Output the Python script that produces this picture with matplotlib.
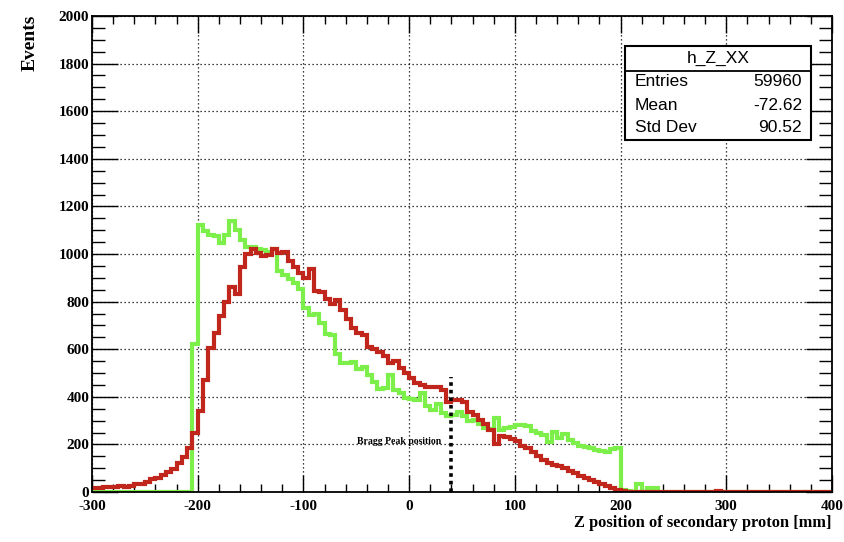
import numpy as np
import matplotlib
matplotlib.use("Agg")
import matplotlib.pyplot as plt
from matplotlib.patches import Rectangle
from matplotlib.lines import Line2D

# ---------------- data (5 mm bins from -300 to 400) ----------------
bin_lo, bin_hi, bin_w = -300, 400, 5

red_counts = [
    15, 18, 22, 20, 22, 25, 22, 25, 35, 32,          # -300 .. -255
    40, 55, 58, 72, 84, 95, 122, 145, 185, 250,      # -250 .. -205
    340, 470, 605, 668, 740, 800, 860, 830, 945, 1000,  # -200 .. -155
    1020, 1005, 990, 995, 1020, 1005, 1010, 972, 945, 920,  # -150 .. -105
    900, 935, 845, 840, 810, 790, 805, 765, 725, 690,  # -100 .. -55
    670, 660, 610, 600, 590, 570, 540, 550, 520, 500,  # -50 .. -5
    480, 460, 450, 442, 440, 440, 428, 380, 385, 385,  # 0 .. 45
    380, 338, 322, 302, 285, 260, 200, 235, 232, 222,  # 50 .. 95
    216, 195, 185, 168, 150, 135, 122, 112, 108, 100,  # 100 .. 145
    88, 78, 68, 60, 50, 42, 33, 25, 18, 10,          # 150 .. 195
    3, 2, 0, 0, 0, 0, 0, 0, 0, 0,                    # 200 .. 245
    0, 0, 0, 0, 0, 0, 0, 0, 4, 0,                    # 250 .. 295
    0, 0, 0, 0, 0, 0, 0, 0, 0, 0,                    # 300 .. 345
    0, 0, 0, 0, 0, 0, 0, 0, 0, 0,                    # 350 .. 395
]

green_counts = [
    0, 0, 0, 0, 0, 0, 0, 0, 0, 0,                    # -300 .. -255
    0, 0, 0, 0, 0, 0, 0, 0, 0, 620,                  # -250 .. -205
    1120, 1095, 1080, 1075, 1045, 1080, 1140, 1100, 1060, 1030,  # -200 .. -155
    1030, 1022, 1015, 1010, 1020, 930, 912, 895, 880, 855,  # -150 .. -105
    775, 745, 750, 710, 665, 660, 580, 540, 540, 545,  # -100 .. -55
    515, 525, 490, 462, 432, 438, 492, 430, 415, 395,  # -50 .. -5
    390, 388, 415, 362, 345, 370, 330, 318, 322, 338,  # 0 .. 45
    318, 300, 302, 285, 268, 265, 310, 260, 268, 272,  # 50 .. 95
    280, 282, 278, 255, 250, 240, 212, 252, 228, 245,  # 100 .. 145
    218, 205, 195, 190, 185, 178, 172, 170, 180, 183,  # 150 .. 195
    10, 5, 0, 35, 0, 18, 18, 0, 0, 0,                # 200 .. 245
    0, 0, 0, 0, 0, 0, 0, 0, 0, 0,                    # 250 .. 295
    0, 0, 0, 0, 0, 0, 0, 0, 0, 0,                    # 300 .. 345
    0, 0, 0, 0, 0, 0, 0, 0, 0, 0,                    # 350 .. 395
]

stats_title = "h_Z_XX"
stats_labels = ["Entries", "Mean", "Std Dev"]
stats_values = ["59960", "-72.62", "90.52"]

bragg_peak_z = 40
bragg_peak_top = 485
bragg_label = "Bragg Peak position"

x_ticks = [-300, -200, -100, 0, 100, 200, 300, 400]
y_ticks = [0, 200, 400, 600, 800, 1000, 1200, 1400, 1600, 1800, 2000]

# ---------------- figure ----------------
W, H = 844, 542
fig = plt.figure(figsize=(W / 100, H / 100), dpi=100)
fig.patch.set_facecolor("white")

def fx(px):
    return px / W

def fy(py):
    return 1 - py / H

ax = fig.add_axes([fx(92), fy(492), (832 - 92) / W, (492 - 16) / H])

edges = np.arange(bin_lo, bin_hi + bin_w, bin_w)
ax.stairs(green_counts, edges, baseline=None, color="#7def4a", lw=3.0, zorder=3)
ax.stairs(red_counts, edges, baseline=None, color="#c0261c", lw=3.0, zorder=4)

ax.set_xlim(bin_lo, bin_hi)
ax.set_ylim(0, 2000)

serif = ["Liberation Serif", "DejaVu Serif"]
sans = ["Liberation Sans", "DejaVu Sans"]

ax.set_xticks(x_ticks)
ax.set_yticks(y_ticks)
ax.set_xticks(np.arange(-300, 401, 20), minor=True)
ax.set_yticks(np.arange(0, 2001, 50), minor=True)
ax.set_xticklabels([str(v) for v in x_ticks], fontfamily=serif, fontweight="bold", fontsize=11)
ax.set_yticklabels([str(v) for v in y_ticks], fontfamily=serif, fontweight="bold", fontsize=11)

ax.tick_params(axis="both", which="both", direction="in", top=True, right=True,
               color="black", width=1.0)
ax.tick_params(axis="y", which="major", length=19, pad=2)
ax.tick_params(axis="y", which="minor", length=9.5)
ax.tick_params(axis="x", which="major", length=12, pad=6)
ax.tick_params(axis="x", which="minor", length=6)

for s in ax.spines.values():
    s.set_linewidth(1.3)
    s.set_color("black")
    s.set_zorder(6)

ax.grid(True, which="major", color="black", linestyle=(0, (1, 2.2)), linewidth=0.9)
ax.set_axisbelow(True)

# Bragg peak marker
ax.plot([bragg_peak_z, bragg_peak_z], [0, bragg_peak_top], color="black", lw=2.6,
        linestyle=(0, (1, 1.1)), dash_capstyle="butt", zorder=5)
fig.text(fx(357), fy(441), bragg_label, fontfamily=serif, fontweight="bold",
         fontsize=7, ha="left", va="center")

# axis titles
fig.text(fx(30), fy(15), "Events", rotation=90, fontfamily=serif, fontweight="bold",
         fontsize=14, ha="center", va="top")
fig.text(fx(831), fy(523), "Z position of secondary proton [mm]", fontfamily=serif,
         fontweight="bold", fontsize=11.8, ha="right", va="center")

# stats box
bx0, bx1, by0, by1, bsep = 625, 811, 46, 140, 71
fig.patches.append(Rectangle((fx(bx0), fy(by1)), (bx1 - bx0) / W, (by1 - by0) / H,
                             transform=fig.transFigure, facecolor="white",
                             edgecolor="black", lw=1.5, zorder=10))
fig.lines.append(Line2D([fx(bx0), fx(bx1)], [fy(bsep), fy(bsep)],
                        transform=fig.transFigure, color="black", lw=1.3, zorder=11))
fig.text(fx((bx0 + bx1) / 2), fy(58), stats_title, fontfamily=sans, fontsize=12.5,
         ha="center", va="center", zorder=12)
row_y = [81, 105, 128]
for lab, val, yy in zip(stats_labels, stats_values, row_y):
    fig.text(fx(635), fy(yy), lab, fontfamily=sans, fontsize=12.5, ha="left",
             va="center", zorder=12)
    fig.text(fx(802), fy(yy), val, fontfamily=sans, fontsize=12.5, ha="right",
             va="center", zorder=12)

fig.savefig("out.png", dpi=100)
